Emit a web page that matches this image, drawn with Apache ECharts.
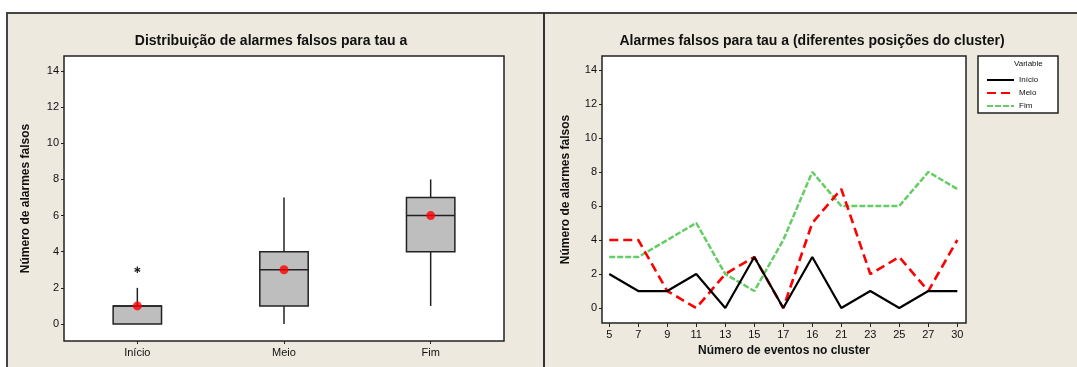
<!DOCTYPE html>
<html><head><meta charset="utf-8">
<script src="https://cdn.jsdelivr.net/npm/echarts@6/dist/echarts.min.js"></script>
<style>html,body{margin:0;padding:0;background:#fff}#c{width:1077px;height:367px}</style>
</head><body><div id="c"></div>
<script>
// ---- Left panel: boxplot data ----
const boxCats = ['Início', 'Meio', 'Fim'];
const boxMin = [0, 0, 1];
const boxQ1 = [0, 1, 4];
const boxMed = [1, 3, 6];
const boxQ3 = [1, 4, 7];
const boxMax = [2, 7, 8];
const boxMean = [1, 3, 6];
const outlierCat = [0];
const outlierVal = [3];

// ---- Right panel: line data ----
const evLabels = ['5', '7', '9', '11', '13', '15', '17', '16', '21', '23', '25', '27', '30'];
const inicio = [2, 1, 1, 2, 0, 3, 0, 3, 0, 1, 0, 1, 1];
const meio   = [4, 4, 1, 0, 2, 3, 0, 5, 7, 2, 3, 1, 4];
const fim    = [3, 3, 4, 5, 2, 1, 4, 8, 6, 6, 6, 8, 7];
const yTicks = [0, 2, 4, 6, 8, 10, 12, 14];

const FONT = 'Liberation Sans';
const BG = '#EDE9DF';
const chart = echarts.init(document.getElementById('c'));

const boxData = boxCats.map((c, i) => [i, boxMin[i], boxQ1[i], boxMed[i], boxQ3[i], boxMax[i]]);
const meanData = boxMean.map((v, i) => [i, v]);
const outData = outlierCat.map((c, i) => [c, outlierVal[i]]);
const idx = evLabels.map((_, i) => i);

const yAxisCommon = {
  type: 'value',
  splitLine: { show: false },
  axisLine: { show: false, onZero: false },
  axisTick: { show: true, length: 3, customValues: yTicks, lineStyle: { color: '#222' } },
  axisLabel: { customValues: yTicks, fontSize: 11, color: '#111', fontFamily: FONT, margin: 5 },
  nameLocation: 'middle', nameRotate: 90,
  nameTextStyle: { fontSize: 12, fontWeight: 'bold', color: '#111', fontFamily: FONT }
};

chart.setOption({
  backgroundColor: '#fff',
  animation: false,
  graphic: [
    { type: 'rect', z: -10, shape: { x: 7, y: 13, width: 1070, height: 360 }, style: { fill: BG } },
    { type: 'line', z: -9, shape: { x1: 6, y1: 13, x2: 1077, y2: 13 }, style: { stroke: '#444', lineWidth: 2 } },
    { type: 'line', z: -9, shape: { x1: 7, y1: 12, x2: 7, y2: 367 }, style: { stroke: '#444', lineWidth: 2 } },
    { type: 'line', z: -9, shape: { x1: 544, y1: 12, x2: 544, y2: 367 }, style: { stroke: '#333', lineWidth: 2 } },
    { type: 'rect', z: 3, shape: { x: 978, y: 56, width: 80, height: 57 }, style: { fill: '#fff', stroke: '#222', lineWidth: 1.5 } },
    { type: 'text', z: 6, x: 1014, y: 60, style: { text: 'Variable', fontSize: 8, fontFamily: FONT, fill: '#111' } }
  ],
  title: [
    { text: 'Distribuição de alarmes falsos para tau a', left: 266, top: 29, textAlign: 'center',
      textStyle: { fontSize: 14, fontWeight: 'bold', color: '#111', fontFamily: FONT } },
    { text: 'Alarmes falsos para tau a (diferentes posições do cluster)', left: 807, top: 29, textAlign: 'center',
      textStyle: { fontSize: 14, fontWeight: 'bold', color: '#111', fontFamily: FONT } }
  ],
  legend: {
    orient: 'vertical', left: 981, top: 71, z: 6,
    itemWidth: 27, itemHeight: 8, itemGap: 5,
    itemStyle: { opacity: 0 },
    textStyle: { fontSize: 8, fontFamily: FONT, color: '#111' },
    data: ['Início', 'Meio', 'Fim']
  },
  grid: [
    { left: 64, top: 56, width: 440, height: 285, show: true, backgroundColor: '#fff', borderColor: '#222', borderWidth: 1.5 },
    { left: 602, top: 56, width: 364, height: 267, show: true, backgroundColor: '#fff', borderColor: '#222', borderWidth: 1.5 }
  ],
  xAxis: [
    { type: 'category', gridIndex: 0, data: boxCats, boundaryGap: true,
      axisLine: { show: false, onZero: false },
      axisTick: { show: true, alignWithLabel: true, length: 3, lineStyle: { color: '#222' } },
      axisLabel: { fontSize: 11, color: '#111', fontFamily: FONT, margin: 6 } },
    { type: 'value', gridIndex: 1, min: -0.25, max: 12.3,
      splitLine: { show: false }, axisLine: { show: false, onZero: false },
      axisTick: { show: true, length: 4, customValues: idx, lineStyle: { color: '#222' } },
      axisLabel: { customValues: idx, formatter: v => evLabels[Math.round(v)], fontSize: 11, color: '#111', fontFamily: FONT, margin: 6 },
      name: 'Número de eventos no cluster', nameLocation: 'middle', nameGap: 22,
      nameTextStyle: { fontSize: 12, fontWeight: 'bold', color: '#111', fontFamily: FONT } }
  ],
  yAxis: [
    Object.assign({}, yAxisCommon, { gridIndex: 0, min: -0.94, max: 14.83, name: 'Número de alarmes falsos', nameGap: 32 }),
    Object.assign({}, yAxisCommon, { gridIndex: 1, min: -0.88, max: 14.82, name: 'Número de alarmes falsos', nameGap: 30 })
  ],
  series: [
    {
      type: 'custom', xAxisIndex: 0, yAxisIndex: 0, data: boxData, z: 3,
      encode: { x: 0, y: [1, 2, 3, 4, 5] },
      renderItem: function (params, api) {
        const i = api.value(0);
        const w = api.size([1, 0])[0] * 0.33;
        const pMin = api.coord([i, api.value(1)]);
        const pQ1 = api.coord([i, api.value(2)]);
        const pMed = api.coord([i, api.value(3)]);
        const pQ3 = api.coord([i, api.value(4)]);
        const pMax = api.coord([i, api.value(5)]);
        const x = pMin[0];
        const ls = { stroke: '#222', lineWidth: 1.5 };
        return { type: 'group', children: [
          { type: 'line', shape: { x1: x, y1: pQ3[1], x2: x, y2: pMax[1] }, style: ls },
          { type: 'line', shape: { x1: x, y1: pMin[1], x2: x, y2: pQ1[1] }, style: ls },
          { type: 'rect', shape: { x: x - w / 2, y: pQ3[1], width: w, height: pQ1[1] - pQ3[1] },
            style: { fill: '#BEBEBE', stroke: '#222', lineWidth: 1.5 } },
          { type: 'line', shape: { x1: x - w / 2, y1: pMed[1], x2: x + w / 2, y2: pMed[1] }, style: ls }
        ] };
      }
    },
    {
      type: 'custom', xAxisIndex: 0, yAxisIndex: 0, data: outData, z: 4,
      renderItem: function (params, api) {
        const p = api.coord([api.value(0), api.value(1)]);
        const r = 3.2, s = { stroke: '#222', lineWidth: 1.3 };
        const ch = [];
        for (let k = 0; k < 3; k++) {
          const a = Math.PI / 2 + k * Math.PI / 3;
          ch.push({ type: 'line', shape: { x1: p[0] - r * Math.cos(a), y1: p[1] - r * Math.sin(a), x2: p[0] + r * Math.cos(a), y2: p[1] + r * Math.sin(a) }, style: s });
        }
        return { type: 'group', children: ch };
      }
    },
    {
      type: 'scatter', xAxisIndex: 0, yAxisIndex: 0, data: meanData, z: 5,
      symbol: 'circle', symbolSize: 9, itemStyle: { color: '#FF0000' }
    },
    {
      name: 'Início', type: 'line', xAxisIndex: 1, yAxisIndex: 1, data: idx.map(i => [i, inicio[i]]),
      symbol: 'none', lineStyle: { color: '#000', width: 2.2, type: 'solid' }, itemStyle: { color: '#000' }, z: 4
    },
    {
      name: 'Meio', type: 'line', xAxisIndex: 1, yAxisIndex: 1, data: idx.map(i => [i, meio[i]]),
      symbol: 'none', lineStyle: { color: '#FF0000', width: 2.6, type: [9, 5] }, itemStyle: { color: '#FF0000' }, z: 3
    },
    {
      name: 'Fim', type: 'line', xAxisIndex: 1, yAxisIndex: 1, data: idx.map(i => [i, fim[i]]),
      symbol: 'none', lineStyle: { color: '#66CC66', width: 2.5, type: [6, 2] }, itemStyle: { color: '#66CC66' }, z: 2
    }
  ]
});
</script>
</body></html>
